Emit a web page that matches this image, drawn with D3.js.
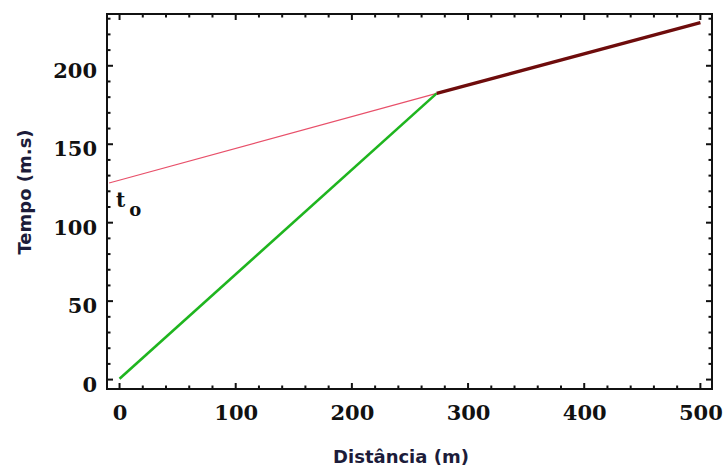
<!DOCTYPE html>
<html>
<head>
<meta charset="utf-8">
<script src="https://cdn.jsdelivr.net/npm/d3@7"></script>
<style>
  body { margin: 0; background: #fff; }
  .tick text { font-family: "DejaVu Serif", serif; font-weight: bold; font-size: 21px; fill: #111; }
  .tickmark { stroke: #111; stroke-width: 2; }
</style>
</head>
<body>
<svg id="chart"></svg>
<script>
// chart size
var width = 723,
    height = 468;

// data
var greenLine = [[0, 0.5], [273, 182.4]];          // direct wave
var redLine = [[-9, 125.3], [273, 182.4]];         // extrapolated to t0
var darkLine = [[273, 182.4], [500, 227.5]];       // refracted wave
var xMajor = [0, 100, 200, 300, 400, 500];
var yMajor = [0, 50, 100, 150, 200];
var xMinor = d3.range(0, 520, 20);
var yMinor = d3.range(0, 240, 10);

var margin = { left: 107, top: 14, right: 11, bottom: 79 };

var svg = d3.select("#chart")
    .attr("width", width)
    .attr("height", height);

var x = d3.scaleLinear()
    .domain([-10.8, 510])
    .range([margin.left, width - margin.right]);

var y = d3.scaleLinear()
    .domain([-6, 233])
    .range([height - margin.bottom, margin.top]);

var x0 = x.range()[0], x1 = x.range()[1],
    y0 = y.range()[0], y1 = y.range()[1];

var line = d3.line()
    .x(function (d) { return x(d[0]); })
    .y(function (d) { return y(d[1]); });

// tick labels only (d3 axes with hidden lines)
svg.append("g")
    .attr("transform", "translate(0," + y0 + ")")
    .call(d3.axisBottom(x).tickValues(xMajor).tickSize(0).tickPadding(16))
    .call(function (g) { g.select(".domain").remove(); });
svg.append("g")
    .attr("transform", "translate(" + x0 + ",0)")
    .call(d3.axisLeft(y).tickValues(yMajor).tickSize(0).tickPadding(10))
    .call(function (g) { g.select(".domain").remove(); })
    .selectAll("text").attr("dy", "0.55em");

// tick marks drawn inward on all four sides
function len(v, major) { return major.indexOf(v) >= 0 ? 6 : 3.5; }

var ticks = svg.append("g");
ticks.selectAll(".xb").data(xMinor).enter().append("line")
    .attr("class", "tickmark")
    .attr("x1", function (d) { return x(d); }).attr("x2", function (d) { return x(d); })
    .attr("y1", y0).attr("y2", function (d) { return y0 - len(d, xMajor); });
ticks.selectAll(".xt").data(xMinor).enter().append("line")
    .attr("class", "tickmark")
    .attr("x1", function (d) { return x(d); }).attr("x2", function (d) { return x(d); })
    .attr("y1", y1).attr("y2", function (d) { return y1 + len(d, xMajor); });
ticks.selectAll(".yl").data(yMinor).enter().append("line")
    .attr("class", "tickmark")
    .attr("y1", function (d) { return y(d); }).attr("y2", function (d) { return y(d); })
    .attr("x1", x0).attr("x2", function (d) { return x0 + len(d, yMajor); });
ticks.selectAll(".yr").data(yMinor).enter().append("line")
    .attr("class", "tickmark")
    .attr("y1", function (d) { return y(d); }).attr("y2", function (d) { return y(d); })
    .attr("x1", x1).attr("x2", function (d) { return x1 - len(d, yMajor); });

// frame
svg.append("rect")
    .attr("x", x0).attr("y", y1)
    .attr("width", x1 - x0).attr("height", y0 - y1)
    .attr("fill", "none")
    .attr("stroke", "#111")
    .attr("stroke-width", 2);

// lines
svg.append("path")
    .datum(redLine)
    .attr("d", line)
    .attr("fill", "none")
    .attr("stroke", "#e8506a")
    .attr("stroke-width", 1.2);

svg.append("path")
    .datum(greenLine)
    .attr("d", line)
    .attr("fill", "none")
    .attr("stroke", "#1fb51f")
    .attr("stroke-width", 2.6);

svg.append("path")
    .datum(darkLine)
    .attr("d", line)
    .attr("fill", "none")
    .attr("stroke", "#6e0c0c")
    .attr("stroke-width", 3.2);

// t0 label
var t0 = svg.append("text")
    .attr("x", 116)
    .attr("y", 207)
    .style("font-family", "DejaVu Serif, serif")
    .style("font-weight", "bold")
    .style("font-size", "20px")
    .style("fill", "#111");
t0.append("tspan").text("t");
t0.append("tspan").attr("dy", 9).attr("dx", 4).style("font-size", "18px").text("o");

// axis titles
svg.append("text")
    .attr("x", 401)
    .attr("y", 463)
    .attr("text-anchor", "middle")
    .style("font-family", "DejaVu Sans, sans-serif")
    .style("font-weight", "bold")
    .style("font-size", "18px")
    .style("fill", "#1c1c3a")
    .text("Distância (m)");

svg.append("text")
    .attr("transform", "translate(31,192) rotate(-90)")
    .attr("text-anchor", "middle")
    .style("font-family", "DejaVu Sans, sans-serif")
    .style("font-weight", "bold")
    .style("font-size", "18px")
    .style("fill", "#1c1c3a")
    .text("Tempo (m.s)");
</script>
</body>
</html>
